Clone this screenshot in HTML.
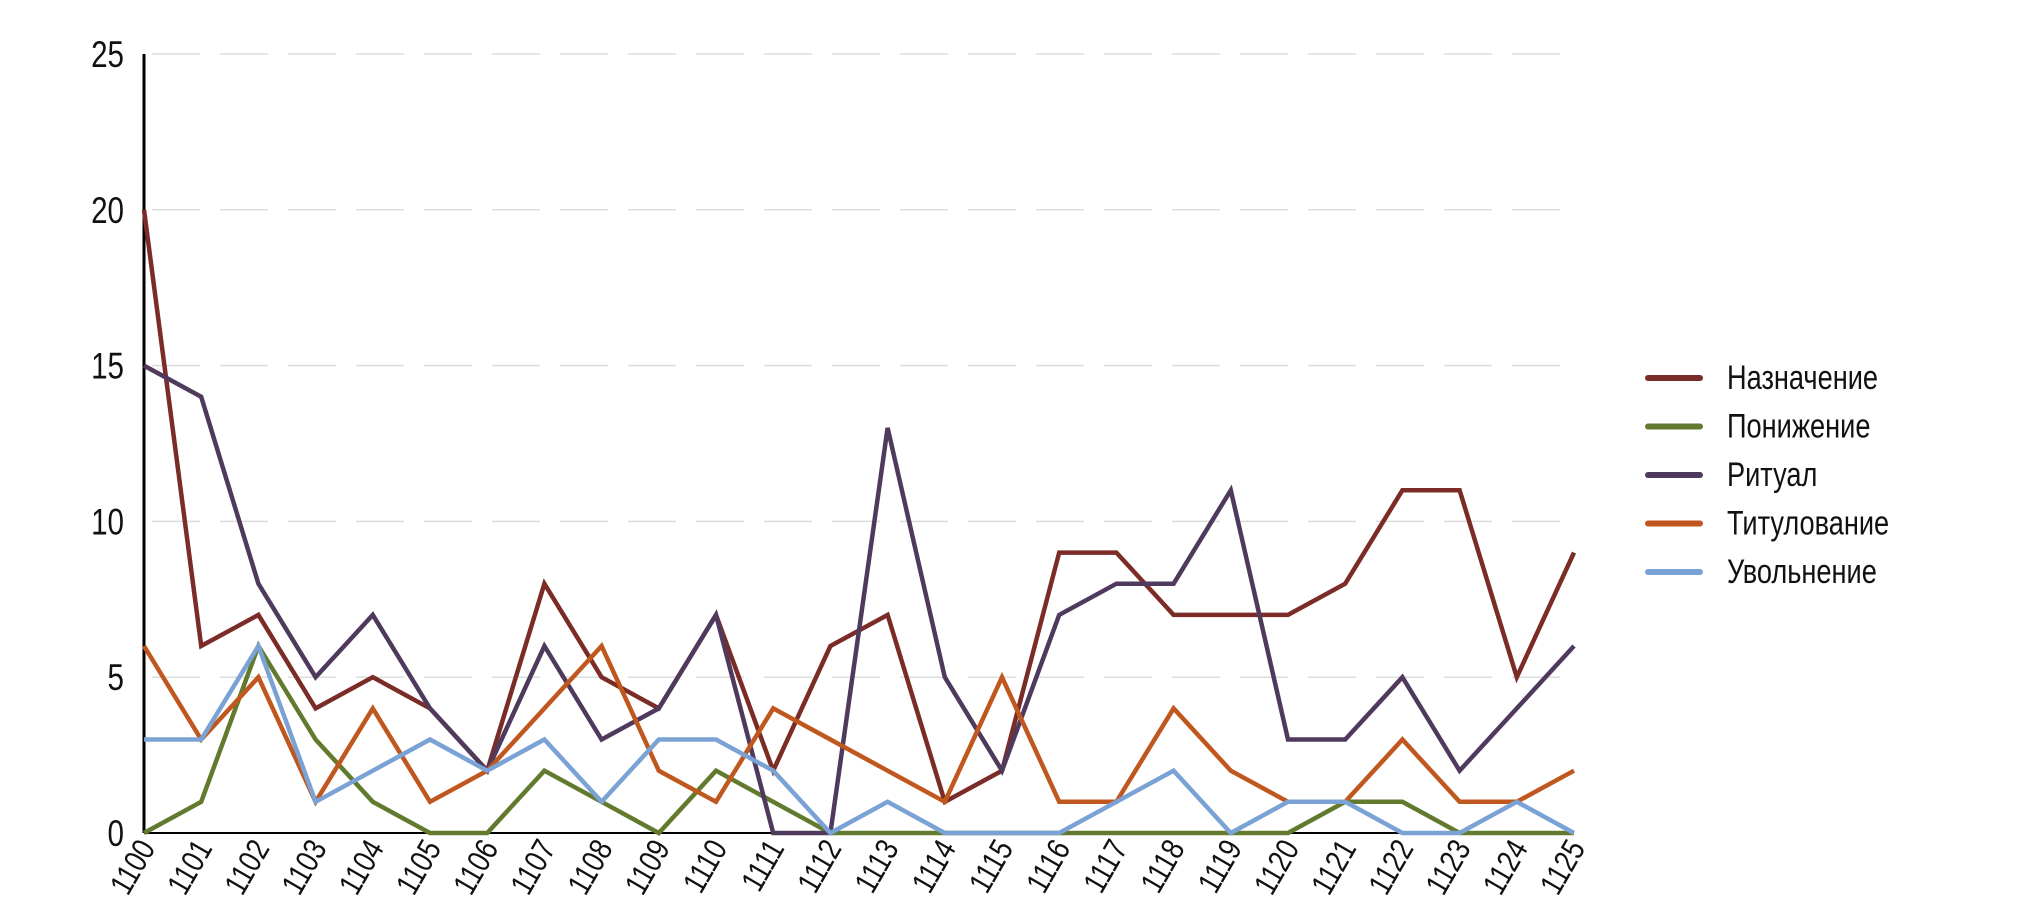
<!DOCTYPE html>
<html><head><meta charset="utf-8"><style>
html,body{margin:0;padding:0;background:#fff;}
svg{display:block;font-family:"Liberation Sans Narrow","Liberation Sans",sans-serif;}
</style></head><body>
<svg id="chart" width="2020" height="924" viewBox="0 0 2020 924">
<g id="grid"></g>
<g id="yticks"></g>
<g id="series"></g>
<g id="xticks"></g>
<g id="legend"></g>
</svg>
<script>
const categories = ["1100","1101","1102","1103","1104","1105","1106","1107","1108","1109","1110","1111","1112","1113","1114","1115","1116","1117","1118","1119","1120","1121","1122","1123","1124","1125"];
const seriesNames = ["Назначение","Понижение","Ритуал","Титулование","Увольнение"];
const naznachenie = [20,6,7,4,5,4,2,8,5,4,7,2,6,7,1,2,9,9,7,7,7,8,11,11,5,9];
const ponizhenie = [0,1,6,3,1,0,0,2,1,0,2,1,0,0,0,0,0,0,0,0,0,1,1,0,0,0];
const ritual = [15,14,8,5,7,4,2,6,3,4,7,0,0,13,5,2,7,8,8,11,3,3,5,2,4,6];
const titulovanie = [6,3,5,1,4,1,2,4,6,2,1,4,3,2,1,5,1,1,4,2,1,1,3,1,1,2];
const uvolnenie = [3,3,6,1,2,3,2,3,1,3,3,2,0,1,0,0,0,1,2,0,1,1,0,0,1,0];
const yTicks = [0,5,10,15,20,25];

const colors = ["#7b2c26","#627a2e","#4f3a5e","#c0571f","#7ba2d4"];
const seriesData = [naznachenie,ponizhenie,ritual,titulovanie,uvolnenie];
const X0=144, X1=1574, Y0=833, Y1=54, YMAX=25;
const NS="http://www.w3.org/2000/svg";
function xs(i){return X0+(X1-X0)*i/(categories.length-1);}
function ys(v){return Y0-(Y0-Y1)*v/YMAX;}
function mk(tag,attrs,parent){const e=document.createElementNS(NS,tag);for(const k in attrs)e.setAttribute(k,attrs[k]);parent.appendChild(e);return e;}

const grid=document.getElementById('grid'), yt=document.getElementById('yticks');
yTicks.forEach(t=>{
  if(t>0){const l=mk('line',{x1:X0+8,x2:X1,y1:ys(t),y2:ys(t),stroke:'#dcdcdc','stroke-width':1.5,'stroke-dasharray':'48,20'},grid);
  
  }
  const y=ys(t)+13;
  const tx=mk('text',{x:0,y:0,'text-anchor':'end','font-size':37,fill:'#111',transform:`translate(124 ${y}) scale(0.8 1)`},yt);
  tx.textContent=t;
  
  
});
const ax=mk('line',{x1:X0,x2:X0,y1:Y1,y2:Y0,stroke:'#000','stroke-width':3},grid);


const bx=mk('line',{x1:X0,x2:X1,y1:Y0,y2:Y0,stroke:'#000','stroke-width':2},grid);



const sg=document.getElementById('series');
seriesData.forEach((d,si)=>{
  const pts=d.map((v,i)=>xs(i).toFixed(1)+','+ys(v).toFixed(1)).join(' ');
  const p=mk('polyline',{points:pts,fill:'none',stroke:colors[si],'stroke-width':4.5,'stroke-linejoin':'miter'},sg);
  
  
});

const xt=document.getElementById('xticks');
categories.forEach((c,i)=>{
  const x=xs(i)+12, y=848;
  const tx=mk('text',{x:0,y:0,'text-anchor':'end','font-size':32,fill:'#111',transform:`translate(${x} ${y}) rotate(-60) scale(0.82 1)`},xt);
  tx.textContent=c;
  
  
});

const lg=document.getElementById('legend');
seriesNames.forEach((n,i)=>{
  const y=376+i*48.5;
  const l=mk('line',{x1:1648,x2:1700,y1:y+2,y2:y+2,stroke:colors[i],'stroke-width':6,'stroke-linecap':'round'},lg);
  
  
  const t=mk('text',{x:0,y:0,'font-size':34,fill:'#111',transform:`translate(1727 ${y+13}) scale(0.8 1)`},lg);
  t.textContent=n;
  
  
});
</script>
</body></html>
